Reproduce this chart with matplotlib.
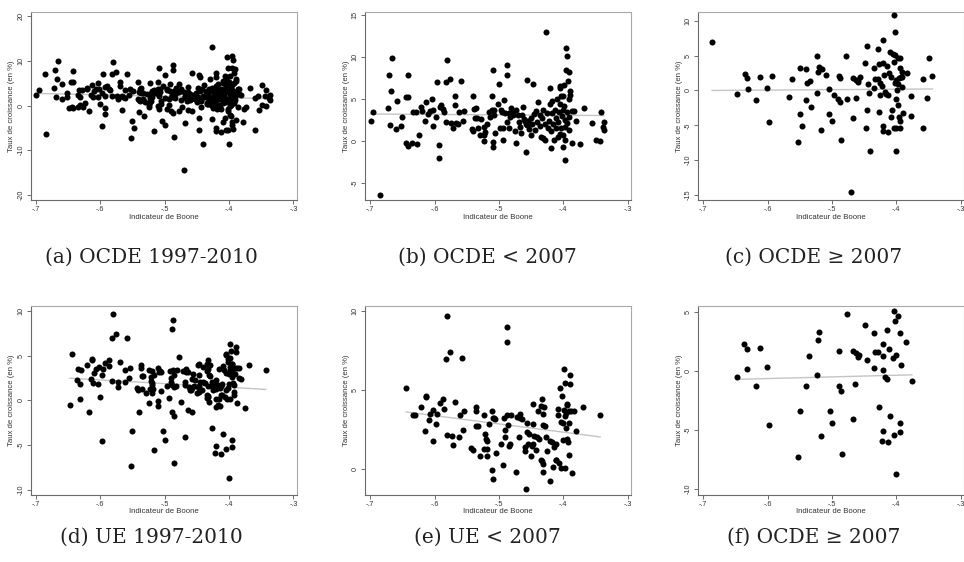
import numpy as np
import matplotlib
matplotlib.use("Agg")
import matplotlib.pyplot as plt

plt.rcParams['font.family'] = ['Liberation Sans', 'DejaVu Sans']

# OCDE before 2007: (indicateur de Boone, taux de croissance)
ocde_pre = [
    (-0.699, 2.4), (-0.695, 3.4), (-0.685, -6.4), (-0.672, 3.9), (-0.670, 7.9),
    (-0.669, 1.85), (-0.667, 5.9), (-0.666, 9.9), (-0.660, 1.4), (-0.659, 4.8),
    (-0.652, 1.8), (-0.651, 2.9), (-0.645, 5.2), (-0.642, 5.2), (-0.642, 7.8),
    (-0.644, -0.3), (-0.642, -0.6), (-0.635, -0.25), (-0.627, -0.35), (-0.624, 0.65),
    (-0.633, 3.5), (-0.629, 3.4), (-0.621, 4.0), (-0.620, 3.6), (-0.615, 2.4),
    (-0.613, 4.6), (-0.610, 3.2), (-0.607, 3.6), (-0.604, 4.95), (-0.603, 1.8),
    (-0.602, 3.7), (-0.598, 2.8), (-0.596, 7.0), (-0.593, -0.5), (-0.593, -2.0),
    (-0.592, 4.1), (-0.590, 4.3), (-0.587, 3.8), (-0.585, 3.5), (-0.582, 7.0),
    (-0.582, 2.2), (-0.580, 9.7), (-0.576, 7.4), (-0.574, 2.1), (-0.572, 1.5),
    (-0.569, 5.3), (-0.569, 4.3), (-0.566, 2.1), (-0.564, 2.0), (-0.562, 3.5),
    (-0.559, 7.1), (-0.556, 2.4), (-0.554, 3.6),
    (-0.541, 5.3), (-0.542, 1.4), (-0.540, 1.2), (-0.538, 3.8), (-0.537, 2.7),
    (-0.534, 2.7), (-0.536, 3.9), (-0.533, 1.5), (-0.530, 0.75), (-0.528, 2.6),
    (-0.524, 0.05), (-0.523, 1.7), (-0.523, 0.75), (-0.521, 1.1), (-0.519, 2.0),
    (-0.516, 3.4), (-0.514, 2.8), (-0.511, 5.3), (-0.511, 3.65), (-0.510, -0.15),
    (-0.509, -0.7), (-0.509, 8.4), (-0.508, 3.1), (-0.507, 3.7), (-0.506, 0.9),
    (-0.502, 4.4), (-0.500, 6.8), (-0.499, 1.6), (-0.497, 3.65), (-0.496, 3.4),
    (-0.494, 0.15), (-0.493, 1.5), (-0.492, 4.9), (-0.491, 3.3), (-0.488, 2.3),
    (-0.487, 7.9), (-0.487, 9.0), (-0.485, 3.3), (-0.484, 1.6), (-0.483, 2.8),
    (-0.482, 3.9), (-0.480, 3.3), (-0.478, 3.1), (-0.475, 1.2), (-0.473, -0.3),
    (-0.474, 3.7), (-0.470, 3.1), (-0.469, 2.2), (-0.467, 1.7), (-0.466, 1.0),
    (-0.464, 3.05), (-0.463, 4.1), (-0.461, 2.6), (-0.459, 2.4), (-0.458, 2.0),
    (-0.458, -1.3), (-0.457, 7.3), (-0.456, 1.85), (-0.455, 2.4), (-0.453, 1.45),
    (-0.451, 2.7), (-0.450, 0.7), (-0.448, 2.0), (-0.447, 6.8), (-0.445, 3.2),
    (-0.444, 1.25), (-0.442, 3.6), (-0.441, 2.2), (-0.439, 4.7), (-0.437, 1.8),
    (-0.436, 3.1), (-0.434, 0.5), (-0.433, 2.7), (-0.432, 0.3), (-0.431, 3.7),
    (-0.429, 2.0), (-0.428, 0.1), (-0.427, 13.0), (-0.426, 3.3), (-0.424, 1.5),
    (-0.423, 2.4), (-0.421, 4.4), (-0.420, 6.3), (-0.419, -0.85), (-0.419, 1.2),
    (-0.418, 3.3), (-0.417, 4.8), (-0.416, 2.0), (-0.414, 0.1), (-0.413, 3.7),
    (-0.412, 1.5), (-0.411, 2.7), (-0.410, 5.0), (-0.409, 0.5), (-0.408, 2.3),
    (-0.407, 3.4), (-0.406, 6.55), (-0.405, 6.3), (-0.405, 0.8), (-0.405, 4.4),
    (-0.404, 1.5), (-0.403, 5.4), (-0.402, 3.0), (-0.401, 3.7), (-0.401, -0.7),
    (-0.400, 0.7), (-0.400, 5.3), (-0.399, 6.7), (-0.399, 4.2), (-0.398, 2.5),
    (-0.398, 1.7), (-0.397, 0.1), (-0.397, -2.3), (-0.396, 8.4), (-0.396, 11.1),
    (-0.395, 3.5), (-0.394, 2.1), (-0.394, 10.1), (-0.393, 7.2), (-0.392, 5.0),
    (-0.391, 8.2), (-0.391, 2.9), (-0.391, 1.3), (-0.390, 6.0), (-0.389, 5.5),
    (-0.386, 3.6), (-0.384, 3.6), (-0.386, -0.3), (-0.381, 2.4), (-0.374, -0.4),
    (-0.368, 3.9), (-0.355, 2.1), (-0.349, 0.15), (-0.343, 0.0), (-0.342, 3.4),
    (-0.337, 2.3), (-0.338, 1.7), (-0.337, 1.3),
]

# OCDE from 2007 on
ocde_post = [
    (-0.686, 7.0), (-0.648, -0.5), (-0.635, 2.3), (-0.632, 1.8), (-0.631, 0.2),
    (-0.618, -1.3), (-0.611, 2.0), (-0.601, 0.4), (-0.598, -4.5), (-0.593, 2.1),
    (-0.567, -0.9), (-0.562, 1.6), (-0.552, -7.35), (-0.550, -3.4), (-0.549, 3.2),
    (-0.547, -5.1), (-0.540, 3.1), (-0.540, -1.35), (-0.538, 1.05), (-0.534, 1.3),
    (-0.532, -2.4), (-0.524, -0.35), (-0.523, 5.0), (-0.522, 2.65), (-0.520, 3.3),
    (-0.517, -5.6), (-0.516, 3.1), (-0.509, 2.15), (-0.505, 0.25), (-0.504, -3.4),
    (-0.500, -4.4), (-0.497, -0.7), (-0.490, -1.25), (-0.489, 2.1), (-0.488, 1.8),
    (-0.487, -1.7), (-0.486, -7.1), (-0.478, 4.9), (-0.477, -1.25), (-0.470, -14.5),
    (-0.468, 1.8), (-0.468, -4.0), (-0.463, -1.1), (-0.462, 1.55), (-0.460, 1.15),
    (-0.459, 1.45), (-0.456, 1.9), (-0.448, 3.95), (-0.447, -5.45), (-0.446, -2.85),
    (-0.445, 6.4), (-0.444, 0.95), (-0.443, -0.4), (-0.441, -8.7), (-0.434, 3.2),
    (-0.434, 0.3), (-0.433, 1.6), (-0.429, 6.0), (-0.429, 1.6), (-0.427, 3.85),
    (-0.427, -3.1), (-0.426, 1.05), (-0.425, -0.65), (-0.422, 0.6), (-0.421, -5.8),
    (-0.420, 7.2), (-0.420, 4.0), (-0.420, -5.05), (-0.419, 2.25), (-0.418, -0.25),
    (-0.416, -0.5), (-0.415, 3.55), (-0.413, -5.9), (-0.413, -0.7), (-0.410, 5.45),
    (-0.411, 2.5), (-0.409, -3.75), (-0.408, 1.9), (-0.407, -2.85), (-0.405, 5.2),
    (-0.404, -5.4), (-0.404, 4.1), (-0.403, 10.8), (-0.402, 5.05), (-0.402, 1.05),
    (-0.402, 8.4), (-0.401, -5.4), (-0.401, -1.25), (-0.401, 1.55), (-0.400, -8.7),
    (-0.399, 0.0), (-0.398, -2.15), (-0.398, 4.7), (-0.397, 0.95), (-0.396, 1.8),
    (-0.396, -3.75), (-0.395, 4.7), (-0.395, -4.4), (-0.394, 3.25), (-0.394, -5.35),
    (-0.393, 1.9), (-0.392, 0.5), (-0.392, 2.6), (-0.391, 2.0), (-0.390, -3.25),
    (-0.384, 2.5), (-0.377, -0.85), (-0.378, -3.6), (-0.359, 1.7), (-0.359, -5.45),
    (-0.353, -1.1), (-0.349, 4.6), (-0.344, 2.05),
]

# UE before 2007
ue_pre = [
    (-0.644, 5.15), (-0.634, 3.45), (-0.630, 3.4), (-0.621, 3.95), (-0.615, 2.4),
    (-0.613, 4.6), (-0.613, 4.55), (-0.609, 3.1), (-0.607, 3.5), (-0.603, 1.8),
    (-0.602, 3.75), (-0.598, 2.85), (-0.596, 3.5), (-0.592, 4.2), (-0.587, 4.45),
    (-0.586, 3.8), (-0.582, 6.95), (-0.581, 2.15), (-0.580, 9.65), (-0.576, 7.4),
    (-0.573, 2.1), (-0.572, 1.5), (-0.569, 4.25), (-0.562, 2.0), (-0.561, 3.4),
    (-0.558, 7.0), (-0.556, 2.45), (-0.554, 3.65), (-0.543, 1.35), (-0.541, 1.2),
    (-0.536, 3.65), (-0.536, 3.95), (-0.535, 2.7), (-0.533, 2.7), (-0.529, 0.85),
    (-0.524, 3.4), (-0.523, 1.3), (-0.521, 2.2), (-0.520, 1.9), (-0.519, 1.75),
    (-0.519, 0.8), (-0.518, 1.3), (-0.516, 2.85), (-0.511, 3.65), (-0.511, -0.05),
    (-0.510, -0.65), (-0.509, 3.2), (-0.508, 3.25), (-0.506, 3.15), (-0.505, 1.0),
    (-0.497, 1.6), (-0.493, 0.25), (-0.492, 3.25), (-0.490, 2.5), (-0.490, 2.05),
    (-0.488, 8.0), (-0.487, 8.95), (-0.487, 3.4), (-0.486, 2.8), (-0.485, 1.45),
    (-0.483, 1.6), (-0.481, 3.4), (-0.474, -0.2), (-0.472, 3.3), (-0.469, 2.0),
    (-0.467, 3.5), (-0.467, 3.2), (-0.464, 3.15), (-0.460, 1.4), (-0.459, 1.15),
    (-0.458, -1.25), (-0.457, 2.35), (-0.456, 2.9), (-0.455, 1.6), (-0.453, 2.25),
    (-0.450, 0.85), (-0.449, 1.45), (-0.447, 2.85), (-0.447, 4.1), (-0.447, 1.6),
    (-0.445, 2.1), (-0.442, 1.2), (-0.441, 2.05), (-0.440, 3.7), (-0.438, 1.9),
    (-0.435, 0.6), (-0.434, 4.0), (-0.433, 4.45), (-0.433, 0.5), (-0.432, 3.5),
    (-0.432, 0.35), (-0.431, 2.8), (-0.431, -0.15), (-0.430, 3.9), (-0.429, 2.7),
    (-0.427, 2.05), (-0.425, 1.15), (-0.421, -0.75), (-0.420, 1.75), (-0.417, 1.7),
    (-0.416, 0.15), (-0.414, 1.4), (-0.412, 1.6), (-0.412, 0.55), (-0.411, 0.6),
    (-0.409, 3.8), (-0.408, 3.4), (-0.407, 0.4), (-0.405, 5.15), (-0.404, 3.0),
    (-0.403, 0.1), (-0.402, 4.6), (-0.400, 2.9), (-0.400, 1.85), (-0.399, 3.75),
    (-0.399, 6.3), (-0.398, 3.35), (-0.398, 0.1), (-0.397, 5.45), (-0.396, 3.55),
    (-0.396, 2.6), (-0.395, 4.1), (-0.395, 4.05), (-0.394, 1.9), (-0.393, 1.7),
    (-0.392, 0.9), (-0.391, 2.9), (-0.391, 3.65), (-0.390, 5.95), (-0.389, 5.35),
    (-0.388, 3.65), (-0.387, -0.25), (-0.384, 3.65), (-0.381, 2.4), (-0.369, 3.9),
    (-0.343, 3.4),
]

# UE from 2007 on
ue_post = [
    (-0.647, -0.5), (-0.636, 2.3), (-0.632, 1.85), (-0.632, 0.15), (-0.618, -1.3),
    (-0.611, 1.95), (-0.601, 0.35), (-0.598, -4.55), (-0.553, -7.3), (-0.550, -3.4),
    (-0.535, 1.25), (-0.540, -1.3), (-0.524, -0.35), (-0.521, 2.6), (-0.520, 3.3),
    (-0.517, -5.55), (-0.503, -3.4), (-0.500, -4.4), (-0.489, 1.75), (-0.489, -1.3),
    (-0.486, -1.7), (-0.485, -7.0), (-0.477, 4.85), (-0.468, 1.75), (-0.468, -4.05),
    (-0.464, -1.1), (-0.462, 1.5), (-0.460, 1.2), (-0.458, 1.35), (-0.448, 3.95),
    (-0.446, 0.95), (-0.435, 3.25), (-0.435, 0.3), (-0.433, 1.65), (-0.428, 1.65),
    (-0.427, -3.05), (-0.422, -5.9), (-0.420, 2.3), (-0.420, 1.25), (-0.420, -5.05),
    (-0.420, 0.1), (-0.417, -0.5), (-0.415, 3.45), (-0.414, -0.65), (-0.413, -6.0),
    (-0.411, 1.85), (-0.410, -3.8), (-0.405, 1.1), (-0.404, -5.4), (-0.404, 5.1),
    (-0.402, 4.25), (-0.401, 1.4), (-0.400, -8.7), (-0.398, 4.7), (-0.395, 3.2),
    (-0.395, -4.4), (-0.395, -5.15), (-0.393, 0.55), (-0.385, 2.5), (-0.376, -0.8),
]

captions = ['(a) OCDE 1997-2010', '(b) OCDE < 2007', '(c) OCDE \u2265 2007',
            '(d) UE 1997-2010', '(e) UE < 2007', '(f) OCDE \u2265 2007']
x_ticks = [-0.7, -0.6, -0.5, -0.4, -0.3]
x_ticklabels = ['-.7', '-.6', '-.5', '-.4', '-.3']
y_ticks = [[-20, -10, 0, 10, 20], [-5, 0, 5, 10, 15], [-15, -10, -5, 0, 5, 10],
           [-10, -5, 0, 5, 10], [0, 5, 10], [-10, -5, 0, 5]]
y_lims = [(-21.2, 21.0), (-7.06, 15.4), (-15.74, 11.3),
          (-10.5, 10.52), (-1.6, 10.3), (-10.48, 5.53)]

panels = [ocde_pre + ocde_post, ocde_pre, ocde_post,
          ue_pre + ue_post, ue_pre, ue_post]

W, H = 964, 562
fig = plt.figure(figsize=(W / 100, H / 100), dpi=100)

lefts = [30.7, 365, 698]
tops = [11.7, 306]
ax_w, ax_h = 266, 188.5
cap_x = [151, 487, 814]
cap_y = [257, 537]

for i, pts in enumerate(panels):
    r, c = divmod(i, 3)
    ax = fig.add_axes([lefts[c] / W, 1 - (tops[r] + ax_h) / H, ax_w / W, ax_h / H])
    x, y = np.array(pts).T
    ax.scatter(x, y, s=19, color='black', linewidths=0, zorder=3)
    # linear fit as in the original (lfit)
    k, m = np.polyfit(x, y, 1)
    xs = np.array([x.min(), x.max()])
    ax.plot(xs, k * xs + m, color='#c4c4c4', lw=1.0, zorder=2)

    ax.set_xlim(-0.708, -0.295)
    ax.set_ylim(*y_lims[i])
    ax.set_xticks(x_ticks)
    ax.set_xticklabels(x_ticklabels)
    ax.set_yticks(y_ticks[i])
    ax.set_yticklabels([str(v) for v in y_ticks[i]], rotation=90, va='center')
    ax.tick_params(labelsize=5.2, length=3, width=0.6, color='#555555', pad=1.5,
                   labelcolor='#333333')
    for side in ['left', 'bottom']:
        ax.spines[side].set_color('#6a6a6a')
        ax.spines[side].set_linewidth(0.8)
    for side in ['top', 'right']:
        ax.spines[side].set_color('#a8a8a8')
        ax.spines[side].set_linewidth(0.8)
    ax.set_xlabel('Indicateur de Boone', fontsize=5.6, labelpad=0.5, color='#333333')
    ax.set_ylabel('Taux de croissance (en %)', fontsize=5.6, labelpad=1.5, color='#333333')

    fig.text(cap_x[c] / W, 1 - cap_y[r] / H, captions[i], ha='center', va='center',
             fontsize=14.5, family=['DejaVu Serif'], color='#222222')

fig.savefig('out.png', dpi=100)
